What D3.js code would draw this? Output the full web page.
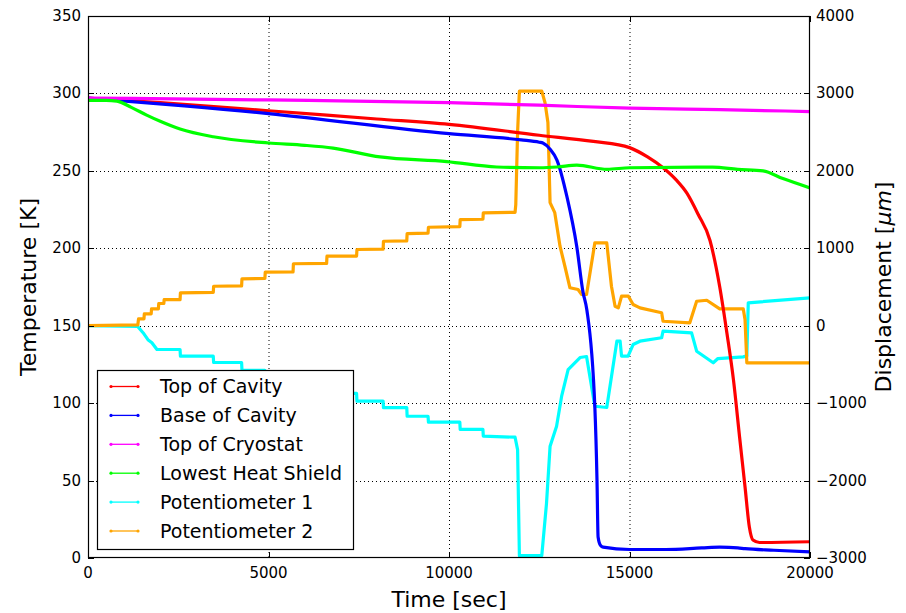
<!DOCTYPE html>
<html><head><meta charset="utf-8">
<script src="https://cdn.jsdelivr.net/npm/d3@7"></script>
<style>body{margin:0;background:#fff}svg{display:block}text{font-family:"DejaVu Sans",sans-serif}</style>
</head><body>
<svg id="c" width="906" height="613"></svg>
<script>
// ---- data ----
const seriesNames = ["Top of Cavity","Base of Cavity","Top of Cryostat","Lowest Heat Shield","Potentiometer 1","Potentiometer 2"];
const seriesColors = ["#ff0000","#0000ff","#ff00ff","#00ff00","#00ffff","#ffa500"];
const xTicks = [0,5000,10000,15000,20000];
const tempTicks = [0,50,100,150,200,250,300,350];
const dispTicks = [-3000,-2000,-1000,0,1000,2000,3000,4000];

// temperature series [time s, K]
const topCavity = [[0,297],[2000,294],[5000,288.8],[8000,283.5],[10000,280],[12500,273],[14000,269],[15000,265],[15500,259],[15930,252],[16300,244],[16590,235.6],[16900,222],[17230,205],[17500,175],[17700,145],[17880,115],[18050,78],[18200,46],[18320,20],[18420,11.6],[18600,10],[20000,10.5]];
const baseCavity = [[0,297],[5000,287],[10000,274],[12000,270],[12500,268.5],[12600,268],[12800,264],[12990,257],[13270,233],[13540,201],[13710,172],[13820,160],[14040,97.5],[14100,50],[14130,13.6],[14200,8],[14270,7],[15000,5.5],[16000,5.5],[17000,6.5],[17500,7],[18000,6.5],[18200,6],[19000,5],[20000,4]];
const topCryostat = [[0,297],[5000,295.8],[10000,294],[12500,292.4],[15000,290.5],[17500,289.5],[20000,288.3]];
const heatShield = [[0,295.5],[500,295.5],[800,295],[1200,291],[1625,286],[2000,282],[2550,277],[3470,272],[5000,268],[6000,266.5],[6790,264.7],[8090,259],[9940,256],[11320,252.5],[12520,252],[13000,252.5],[13540,253.7],[14380,251],[15000,252],[17300,252.4],[18000,251],[18700,250],[19250,245],[20000,239]];
// displacement series [time s, µm]
const pot1 = [[0,0],[1380,-10],[1400,-23],[1525,-90],[1660,-180],[1770,-220],[1910,-307],[2550,-307],[2560,-394],[3470,-394],[3480,-475],[4255,-475],[4265,-575],[4900,-575],[4910,-669],[5680,-669],[5690,-772],[6610,-772],[6620,-875],[7440,-875],[7450,-975],[8175,-975],[8185,-1057],[8830,-1057],[8840,-1169],[9420,-1169],[9430,-1246],[10300,-1246],[10310,-1340],[10940,-1340],[10950,-1427],[11830,-1440],[11900,-1600],[11950,-2970],[12570,-2970],[12700,-2300],[12800,-1556],[12980,-1298],[13120,-910],[13300,-566],[13630,-411],[13810,-398],[14040,-1040],[14370,-1056],[14650,-200],[14740,-200],[14780,-394],[14960,-394],[15100,-243],[15290,-200],[15890,-156],[15930,-71],[16720,-92],[16860,-329],[17320,-479],[17450,-424],[18150,-402],[18250,-390],[18290,296],[20000,360]];
const pot2 = [[0,0],[1380,10],[1400,89],[1550,89],[1560,154],[1750,154],[1760,218],[1950,218],[1960,287],[2100,287],[2110,338],[2550,338],[2560,425],[3470,430],[3480,510],[4255,515],[4265,606],[4900,610],[4910,691],[5680,695],[5690,800],[6610,805],[6620,898],[7440,900],[7450,984],[8175,990],[8185,1091],[8830,1095],[8840,1190],[9420,1195],[9430,1272],[10300,1280],[10310,1371],[10940,1375],[10950,1458],[11830,1465],[11850,1565],[11900,2500],[11950,3030],[12570,3030],[12660,2880],[12740,2625],[12800,1590],[12930,1460],[13075,1027],[13210,768],[13350,490],[13575,467],[13675,403],[13810,403],[14040,1070],[14370,1070],[14500,510],[14600,252],[14690,231],[14780,381],[14970,381],[15100,274],[15290,231],[15890,167],[15930,58],[16670,37],[16860,316],[17140,329],[17500,218],[18150,218],[18200,80],[18250,-479],[20000,-479]];

// ---- chart ----
const svg = d3.select("#c");
const L=88, R=810, T=16, B=558;
const x = d3.scaleLinear().domain([0,20000]).range([L,R]);
const yT = d3.scaleLinear().domain([0,350]).range([B,T]);
const yD = d3.scaleLinear().domain([-3000,4000]).range([B,T]);

svg.append("defs").append("clipPath").attr("id","clip")
  .append("rect").attr("x",L).attr("y",T).attr("width",R-L).attr("height",B-T);

// grid
const grid = svg.append("g").attr("stroke","#000").attr("stroke-width",1).attr("stroke-dasharray","1,3");
xTicks.slice(1,-1).forEach(v=>grid.append("line").attr("x1",x(v)+0.5).attr("x2",x(v)+0.5).attr("y1",T).attr("y2",B));
tempTicks.slice(1,-1).forEach(v=>grid.append("line").attr("x1",L).attr("x2",R).attr("y1",Math.round(yT(v))+0.5).attr("y2",Math.round(yT(v))+0.5));

// series
const datasets = [
  {d:topCavity, y:yT, smooth:true},{d:baseCavity, y:yT, smooth:true},{d:topCryostat, y:yT, smooth:true},{d:heatShield, y:yT, smooth:true},
  {d:pot1, y:yD, smooth:false},{d:pot2, y:yD, smooth:false}
];
const plot = svg.append("g").attr("clip-path","url(#clip)");
const order = [4,5,0,1,2,3];
order.forEach(i=>{
  const s = datasets[i];
  const line = d3.line().x(p=>x(p[0])).y(p=>s.y(p[1])).curve(s.smooth?d3.curveMonotoneX:d3.curveLinear);
  plot.append("path").attr("d",line(s.d)).attr("fill","none")
    .attr("stroke",seriesColors[i]).attr("stroke-width",3.2).attr("stroke-linejoin","round");
});

// axes (ticks inward)
const tk = 6;
const axG = svg.append("g").attr("stroke","#000").attr("stroke-width",1);
xTicks.forEach(v=>{
  const px = Math.round(x(v))+0.5;
  axG.append("line").attr("x1",px).attr("x2",px).attr("y1",B).attr("y2",B-tk);
  axG.append("line").attr("x1",px).attr("x2",px).attr("y1",T).attr("y2",T+tk);
});
tempTicks.forEach(v=>{
  const py = Math.round(yT(v))+0.5;
  axG.append("line").attr("x1",L).attr("x2",L+tk).attr("y1",py).attr("y2",py);
});
dispTicks.forEach(v=>{
  const py = Math.round(yD(v))+0.5;
  axG.append("line").attr("x1",R).attr("x2",R-tk).attr("y1",py).attr("y2",py);
});
svg.append("rect").attr("x",L+0.5).attr("y",T+0.5).attr("width",R-L-1).attr("height",B-T-1)
  .attr("fill","none").attr("stroke","#000").attr("stroke-width",1.2);

const fs = 15;
svg.append("g").selectAll("text").data(xTicks).join("text")
  .attr("x",d=>x(d)).attr("y",B+20).attr("text-anchor","middle").attr("font-size",fs).text(d=>d);
svg.append("g").selectAll("text").data(tempTicks).join("text")
  .attr("x",L-7).attr("y",d=>yT(d)+5).attr("text-anchor","end").attr("font-size",fs).text(d=>d);
svg.append("g").selectAll("text").data(dispTicks).join("text")
  .attr("x",R+6).attr("y",d=>yD(d)+5).attr("text-anchor","start").attr("font-size",fs)
  .text(d=>d<0?"\u2212"+Math.abs(d):d);

// axis titles
svg.append("text").attr("x",(L+R)/2).attr("y",607).attr("text-anchor","middle").attr("font-size",22).text("Time [sec]");
svg.append("text").attr("transform",`translate(36,${(T+B)/2}) rotate(-90)`).attr("text-anchor","middle").attr("font-size",22).text("Temperature [K]");
const rt = svg.append("text").attr("transform",`translate(891,${(T+B)/2}) rotate(-90)`).attr("text-anchor","middle").attr("font-size",22);
rt.append("tspan").text("Displacement [");
rt.append("tspan").attr("font-style","italic").text("\u03bcm");
rt.append("tspan").text("]");

// legend
const lg = svg.append("g");
lg.append("rect").attr("x",97.5).attr("y",370.5).attr("width",256).attr("height",179)
  .attr("fill","#fff").attr("stroke","#000").attr("stroke-width",1.2);
seriesNames.forEach((n,i)=>{
  const cy = 386.5 + i*28.9;
  lg.append("line").attr("x1",111).attr("x2",138).attr("y1",cy).attr("y2",cy).attr("stroke",seriesColors[i]).attr("stroke-width",1.3);
  [111,138].forEach(cx=>lg.append("circle").attr("cx",cx).attr("cy",cy).attr("r",1.6).attr("fill",seriesColors[i]));
  lg.append("text").attr("x",160).attr("y",cy+6.5).attr("font-size",19).text(n);
});
</script>
</body></html>
